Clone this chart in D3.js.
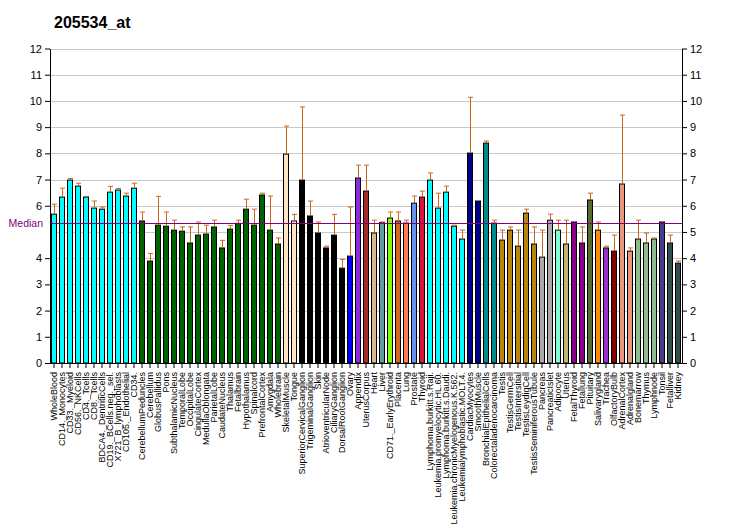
<!DOCTYPE html>
<html><head><meta charset="utf-8">
<script src="https://cdn.jsdelivr.net/npm/d3@7"></script>
<style>
body{margin:0;background:#fff}
svg{display:block}
text{font-family:"Liberation Sans",Arial,sans-serif}
</style>
</head><body>
<svg id="chart" width="732" height="530"></svg>
<script>
const chartTitle = "205534_at";
const tissues = ["WholeBlood","CD14._Monocytes","CD33._Myeloid","CD56._NKCells","CD4._Tcells","CD8._Tcells","BDCA4._DentriticCells","CD19._BCells.neg._sel.","X721_B_lymphoblasts","CD105._Endothelial","CD34.","CerebellumPeduncles","Cerebellum","GlobusPallidus","Pons","SubthalamicNucleus","TemporalLobe","OccipitalLobe","CingulateCortex","MedullaOblongata","ParietalLobe","CaudateNucleus","Thalamus","Fetalbrain","Hypothalamus","Spinalcord","PrefrontalCortex","Amygdala","Wholebrain","SkeletalMuscle","Tongue","SuperiorCervicalGanglion","TrigeminalGanglion","Skin","AtrioventricularNode","CiliaryGanglion","DorsalRootGanglion","Ovary","Appendix","UterusCorpus","Heart","Liver","CD71._EarlyErythroid","Placenta","Lung","Prostate","Thyroid","Lymphoma.burkitt.s.Raji.","Leukemia.promyelocytic.HL.60.","Lymphoma.burkitt.s.Daudi.","Leukemia.chronicMyelogenous.K.562.","Leukemialymphoblastic.MOLT.4.","CardiacMyocytes","SmoothMuscle","BronchialEpithelialCells","Colorectaladenocarcinoma","Testis","TestisGermCell","TestisIntersitial","TestisLeydigCell","TestisSeminiferousTubule","Pancreas","PancreaticIslet","Adipocyte","Uterus","FetalThyroid","Fetallung","Pituitary","Salivarygland","Trachea","OlfactoryBulb","AdrenalCortex","Adrenalgland","Bonemarrow","Thymus","Lymphnode","Tonsil","Fetalliver","Kidney"];
const values = [5.68,6.33,6.98,6.75,6.33,5.91,5.87,6.52,6.60,6.37,6.67,5.42,3.89,5.26,5.22,5.07,5.03,4.58,4.88,4.92,5.19,4.39,5.11,5.33,5.87,5.26,6.41,5.07,4.54,7.97,5.42,6.98,5.61,4.96,4.39,4.88,3.62,4.08,7.06,6.56,4.96,5.36,5.53,5.42,5.34,6.10,6.33,6.98,5.91,6.52,5.22,4.73,8.01,6.18,8.39,5.34,4.69,5.07,4.46,5.72,4.54,4.04,5.45,5.07,4.54,5.38,4.58,6.22,5.07,4.39,4.27,6.83,4.27,4.73,4.58,4.73,5.38,4.58,3.81];
const errTops = [6.06,6.67,7.04,6.86,6.36,6.18,5.95,6.74,6.66,6.48,6.86,5.76,4.18,6.36,5.76,5.45,5.19,5.19,5.38,5.26,5.45,4.68,5.25,5.45,6.25,5.87,6.48,6.37,4.77,9.04,5.67,9.77,6.18,5.38,4.46,5.67,3.95,5.95,7.55,7.55,5.45,5.38,5.76,5.76,5.45,6.37,6.56,7.25,6.48,6.75,5.26,5.07,10.14,6.18,8.47,5.45,5.07,5.19,5.07,5.87,5.19,5.07,5.68,5.45,5.45,5.38,5.19,6.48,5.38,4.46,4.88,9.46,4.39,5.45,4.96,4.77,5.38,4.88,3.89];
const barColors = ["cyan","cyan","cyan","cyan","cyan","cyan","cyan","cyan","cyan","cyan","cyan",
 "darkgreen","darkgreen","darkgreen","darkgreen","darkgreen","darkgreen","darkgreen","darkgreen","darkgreen","darkgreen","darkgreen","darkgreen","darkgreen","darkgreen","darkgreen","darkgreen","darkgreen","darkgreen",
 "bisque","bisque","black","black","black","black","black","black",
 "blue","blueviolet","brown","burlywood","cadetblue","chartreuse","chocolate","coral","cornflowerblue","crimson",
 "cyan","cyan","cyan","cyan","cyan",
 "darkblue","darkblue","darkcyan","darkcyan",
 "darkgoldenrod","darkgoldenrod","darkgoldenrod","darkgoldenrod","darkgoldenrod",
 "darkgray","darkgray","aquamarine","darkkhaki","darkmagenta","darkmagenta","darkolivegreen","darkorange","darkorchid","darkred",
 "darksalmon","darksalmon","darkseagreen","darkseagreen","darkseagreen","darkslateblue","darkslategray","darkslategray"];
const medianValue = 5.33;
const yTicksLeft = [0,1,2,3,4,6,7,8,9,10,11,12];
const yTicksRight = [0,1,2,3,4,5,6,7,8,9,10,11,12];
const gridValues = [1,2,3,4,5,6,7,8,9,10,11,12];

const svg = d3.select("#chart");
const plotLeft = 50, plotRight = 682, plotTop = 48.5, plotBottom = 363;

const x = d3.scaleBand().domain(tissues).range([plotLeft, plotRight]).paddingInner(0.25).paddingOuter(0.125);
const y = d3.scaleLinear().domain([0, 12]).range([plotBottom, plotTop]);

// title
svg.append("text").attr("x", 54).attr("y", 28)
  .attr("font-size", 16).attr("font-weight", "bold").attr("fill", "#000").text(chartTitle);

// grid
svg.append("g").selectAll("line").data(gridValues).join("line")
  .attr("x1", plotLeft).attr("x2", plotRight)
  .attr("y1", d => Math.round(y(d)) + 0.5).attr("y2", d => Math.round(y(d)) + 0.5)
  .attr("stroke", "#c8c8c8").attr("stroke-width", 1);

// bars
svg.append("g").selectAll("rect").data(tissues).join("rect")
  .attr("x", d => x(d) + 0.5)
  .attr("y", (d, i) => y(values[i]))
  .attr("width", x.bandwidth() - 1)
  .attr("height", (d, i) => y(0) - y(values[i]))
  .attr("fill", (d, i) => barColors[i])
  .attr("stroke", "#000").attr("stroke-width", 1);

// error bars
const errCol = "#cd661d";
const eg = svg.append("g");
tissues.forEach((t, i) => {
  if (errTops[i] <= values[i]) return;
  const cx = Math.round(x(t) + x.bandwidth() / 2) + 0.5;
  eg.append("line").attr("x1", cx).attr("x2", cx)
    .attr("y1", y(values[i])).attr("y2", y(errTops[i]))
    .attr("stroke", errCol).attr("stroke-width", 1);
  eg.append("line").attr("x1", cx - 2.5).attr("x2", cx + 2.5)
    .attr("y1", y(errTops[i])).attr("y2", y(errTops[i]))
    .attr("stroke", errCol).attr("stroke-width", 1);
});

// median
const my = Math.round(y(medianValue)) + 0.5;
svg.append("line").attr("x1", plotLeft).attr("x2", plotRight).attr("y1", my).attr("y2", my)
  .attr("stroke", "purple").attr("stroke-width", 1);
svg.append("text").attr("x", 43).attr("y", my).attr("dy", "0.35em")
  .attr("text-anchor", "end").attr("font-size", 10.5).attr("fill", "purple").text("Median");

// axes
const la = svg.append("g").attr("transform", `translate(${plotLeft},0)`)
  .call(d3.axisLeft(y).tickValues(yTicksLeft).tickSize(5).tickSizeOuter(0).tickPadding(3).tickFormat(d3.format("d")));
const ra = svg.append("g").attr("transform", `translate(${plotRight},0)`)
  .call(d3.axisRight(y).tickValues(yTicksRight).tickSize(5).tickSizeOuter(0).tickPadding(3).tickFormat(d3.format("d")));
[la, ra].forEach(a => {
  a.selectAll("text").attr("font-size", 11).attr("font-family", "Liberation Sans, Arial, sans-serif").attr("fill", "#000");
  a.selectAll("line,path").attr("stroke", "#000");
});

const ba = svg.append("g").attr("transform", `translate(0,${plotBottom})`)
  .call(d3.axisBottom(x).tickSize(5).tickSizeOuter(0).tickPadding(3));
ba.select(".domain").attr("stroke", "#000");
ba.selectAll("line").attr("stroke", "#000");
ba.selectAll("text")
  .attr("font-size", 9).attr("font-family", "Liberation Sans, Arial, sans-serif").attr("fill", "#000")
  .attr("text-anchor", "end")
  .attr("transform", "translate(0,1) rotate(-90)")
  .attr("x", -8).attr("y", 0).attr("dy", "0.35em");
</script>
</body></html>
